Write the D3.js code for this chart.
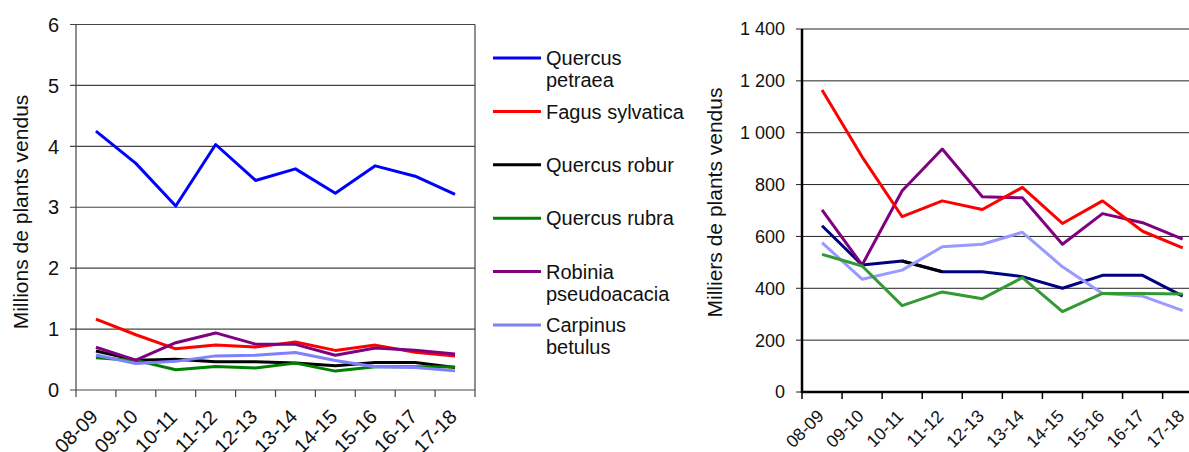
<!DOCTYPE html>
<html>
<head>
<meta charset="utf-8">
<script src="https://cdn.jsdelivr.net/npm/d3@7"></script>
<style>
  body { margin: 0; background: #fff; }
  svg { display: block; font-family: "Liberation Sans", Arial, sans-serif; }
</style>
</head>
<body>
<svg id="chart" width="1189" height="452"></svg>
<script>
// seasons and species
const seasons = ["08-09", "09-10", "10-11", "11-12", "12-13", "13-14", "14-15", "15-16", "16-17", "17-18"];
const speciesNames = ["Quercus petraea", "Fagus sylvatica", "Quercus robur", "Quercus rubra", "Robinia pseudoacacia", "Carpinus betulus"];
const legendLines = [["Quercus", "petraea"], ["Fagus sylvatica"], ["Quercus robur"], ["Quercus rubra"], ["Robinia", "pseudoacacia"], ["Carpinus", "betulus"]];

// thousands of plants sold
const petraea  = [4250, 3720, 3020, 4030, 3440, 3630, 3230, 3680, 3510, 3210];
const fagus    = [1165, 907, 676, 737, 704, 789, 650, 737, 620, 556];
const robur    = [641, 490, 505, 464, 464, 445, 400, 450, 450, 370];
const rubra    = [531, 486, 333, 386, 360, 441, 310, 380, 380, 378];
const robinia  = [702, 490, 776, 937, 753, 749, 570, 688, 653, 590];
const carpinus = [576, 435, 470, 560, 570, 616, 483, 380, 370, 314];

const leftTicks = [0, 1, 2, 3, 4, 5, 6];
const rightTicks = [0, 200, 400, 600, 800, 1000, 1200, 1400];

const leftColors  = ["#0000ff", "#ff0000", "#000000", "#008000", "#800080", "#8080ff"];
const rightColors = { fagus: "#ff0000", robinia: "#800080", robur: "#000080", carpinus: "#9999ff", rubra: "#339933" };
// the right chart shows this piece of Q. robur in black
const roburBlackPart = ["10-11", "11-12"];

const allSeries = [petraea, fagus, robur, rubra, robinia, carpinus];

const svg = d3.select("#chart");
const fr = d3.formatLocale({decimal: ",", thousands: "\u00a0", grouping: [3], currency: ["", " €"]});

// rotated season labels, centred a bit left of each band centre
function xLabels(g, x, cy, dx, size) {
  g.selectAll("text.xl")
    .data(seasons)
    .enter().append("text")
      .attr("class", "xl")
      .attr("transform", d => `translate(${x(d) + x.bandwidth() / 2 + dx},${cy}) rotate(-45)`)
      .attr("text-anchor", "middle")
      .attr("dy", "0.36em")
      .attr("font-size", size)
      .attr("fill", "#111")
      .text(d => d);
}

function boundaryTicks(g, x, baseY, color, w) {
  const b = d3.range(seasons.length + 1).map(i => x.range()[0] + i * x.step());
  g.selectAll("line.bt")
    .data(b)
    .enter().append("line")
      .attr("x1", d => d).attr("x2", d => d)
      .attr("y1", baseY).attr("y2", baseY + 7)
      .attr("stroke", color).attr("stroke-width", w);
}

// ---------- left chart (millions) ----------
{
  const left = 76, right = 475, top = 24.5, bottom = 390;
  const x = d3.scaleBand().domain(seasons).range([left, right]);
  const y = d3.scaleLinear().domain([0, 6]).range([bottom, top]);
  const g = svg.append("g");

  // grid
  g.selectAll("line.grid")
    .data(leftTicks)
    .enter().append("line")
      .attr("x1", left - 6).attr("x2", right)
      .attr("y1", d => y(d)).attr("y2", d => y(d))
      .attr("stroke", "#444").attr("stroke-width", 1.2);
  g.append("line").attr("x1", left).attr("x2", left).attr("y1", top).attr("y2", bottom)
    .attr("stroke", "#444").attr("stroke-width", 1.2);
  g.append("line").attr("x1", right).attr("x2", right).attr("y1", top).attr("y2", bottom)
    .attr("stroke", "#444").attr("stroke-width", 1.2);
  boundaryTicks(g, x, bottom, "#444", 1.2);

  g.selectAll("text.yl")
    .data(leftTicks)
    .enter().append("text")
      .attr("x", 59).attr("y", d => y(d)).attr("dy", "0.36em")
      .attr("text-anchor", "end").attr("font-size", 20).attr("fill", "#111")
      .text(d => d);
  xLabels(g, x, 431, -20, 20);

  g.append("text")
    .attr("transform", `translate(28,212) rotate(-90)`)
    .attr("text-anchor", "middle").attr("font-size", 21).attr("fill", "#111")
    .text("Millions de plants vendus");

  const line = d3.line()
    .x((d, i) => x(seasons[i]) + x.bandwidth() / 2)
    .y(d => y(d / 1000));
  allSeries.forEach((s, k) => {
    g.append("path").datum(s)
      .attr("d", line)
      .attr("fill", "none")
      .attr("stroke", leftColors[k])
      .attr("stroke-width", 3)
      .attr("stroke-linejoin", "round");
  });

  // legend
  const lg = svg.append("g");
  speciesNames.forEach((name, i) => {
    const ly = 58 + i * 53.4;
    lg.append("line").attr("x1", 493).attr("x2", 541).attr("y1", ly).attr("y2", ly)
      .attr("stroke", leftColors[i]).attr("stroke-width", 3);
    const t = lg.append("text").attr("x", 546).attr("y", ly)
      .attr("font-size", 20).attr("fill", "#111");
    legendLines[i].forEach((part, j) => {
      t.append("tspan").attr("x", 546).attr("dy", j === 0 ? "0.36em" : "1.1em").text(part);
    });
  });
}

// ---------- right chart (thousands) ----------
{
  const left = 802, top = 29, bottom = 392;
  const step = 40.07;
  const x = d3.scaleBand().domain(seasons).range([left, left + step * seasons.length]);
  const y = d3.scaleLinear().domain([0, 1400]).range([bottom, top]);
  const g = svg.append("g");

  g.selectAll("line.grid")
    .data(rightTicks)
    .enter().append("line")
      .attr("x1", left - 6).attr("x2", 1189)
      .attr("y1", d => y(d)).attr("y2", d => y(d))
      .attr("stroke", "#222").attr("stroke-width", 1);
  g.append("line").attr("x1", left).attr("x2", left).attr("y1", top).attr("y2", bottom + 1)
    .attr("stroke", "#000").attr("stroke-width", 2.5);
  g.append("line").attr("x1", left).attr("x2", 1189).attr("y1", bottom).attr("y2", bottom)
    .attr("stroke", "#000").attr("stroke-width", 2.5);
  boundaryTicks(g, x, bottom, "#000", 1.5);

  g.selectAll("text.yl")
    .data(rightTicks)
    .enter().append("text")
      .attr("x", 785).attr("y", d => y(d)).attr("dy", "0.36em")
      .attr("text-anchor", "end").attr("font-size", 18).attr("fill", "#111")
      .text(d => fr.format(",")(d));
  xLabels(g, x, 428.5, -17.5, 17.5);

  g.append("text")
    .attr("transform", `translate(722,${(top + bottom) / 2 - 8}) rotate(-90)`)
    .attr("text-anchor", "middle").attr("font-size", 21).attr("fill", "#111")
    .text("Milliers de plants vendus");

  const line = d3.line()
    .x(d => x(d[0]) + x.bandwidth() / 2)
    .y(d => y(d[1]));
  const pairs = s => seasons.map((c, i) => [c, s[i]]);
  const draw = (data, color) => g.append("path").datum(data)
    .attr("d", line).attr("fill", "none").attr("stroke", color)
    .attr("stroke-width", 3).attr("stroke-linejoin", "round");

  draw(pairs(robur), rightColors.robur);
  draw(pairs(robur).filter(d => roburBlackPart.includes(d[0])), "#000");
  draw(pairs(carpinus), rightColors.carpinus);
  draw(pairs(robinia), rightColors.robinia);
  draw(pairs(fagus), rightColors.fagus);
  draw(pairs(rubra), rightColors.rubra);
}
</script>
</body>
</html>
